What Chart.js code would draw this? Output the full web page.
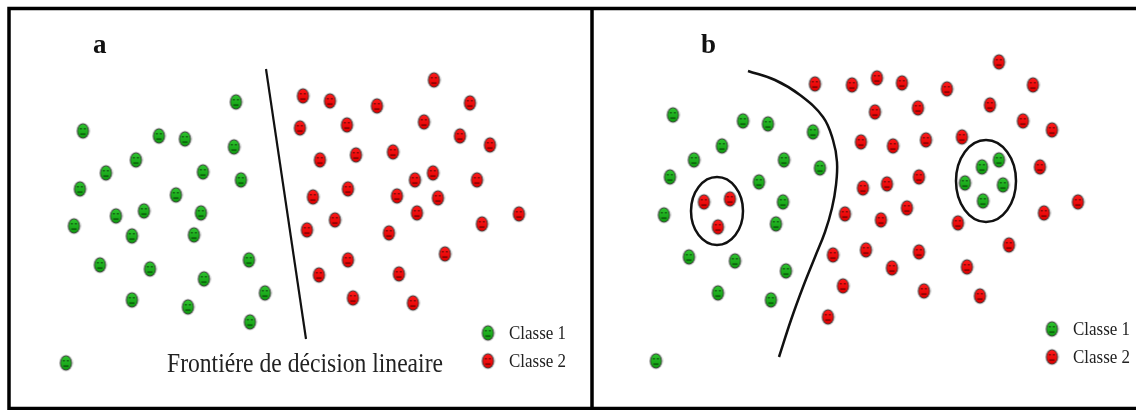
<!DOCTYPE html>
<html>
<head>
<meta charset="utf-8">
<script src="https://cdn.jsdelivr.net/npm/chart.js@4/dist/chart.umd.min.js"></script>
<style>
html, body { margin: 0; padding: 0; background: #fff; }
#wrap { width: 1136px; height: 410px; }
</style>
</head>
<body>
<div id="wrap"><canvas id="chart"></canvas></div>
<script>
// panel a
const classe1A = [[83,131],[159,136],[185,139],[236,102],[234,147],[136,160],[106,173],[80,189],[203,172],[176,195],[241,180],
  [74,226],[116,216],[144,211],[201,213],[132,236],[194,235],[100,265],[150,269],[204,279],[249,260],[265,293],[132,300],[188,307],[250,322],[66,363]];
const classe2A = [[434,80],[303,96],[330,101],[377,106],[470,103],[300,128],[347,125],[424,122],[460,136],[490,145],[320,160],[356,155],
  [393,152],[415,180],[433,173],[477,180],[313,197],[348,189],[397,196],[438,198],[417,213],[519,214],[307,230],[335,220],[389,233],
  [482,224],[445,254],[348,260],[319,275],[399,274],[353,298],[413,303]];
const frontiereA = [[266,69],[306,339]];

// panel b
const classe1B = [[673,115],[743,121],[768,124],[813,132],[722,146],[694,160],[784,160],[820,168],[670,177],[759,182],[783,202],
  [664,215],[776,224],[689,257],[735,261],[786,271],[718,293],[771,300],[656,361],
  [982,167],[999,160],[965,183],[1003,185],[983,201]];
const classe2B = [[704,202],[730,199],[718,227],
  [815,84],[852,85],[877,78],[902,83],[947,89],[999,62],[1033,85],[875,112],[918,108],[990,105],[1023,121],[1052,130],
  [861,142],[893,146],[926,140],[962,137],[1040,167],[863,188],[887,184],[919,177],[907,208],[1044,213],[1078,202],
  [845,214],[881,220],[958,223],[866,250],[919,252],[892,268],[967,267],[1009,245],[833,255],[843,286],[924,291],[980,296],[828,317]];
const frontiereB = [[748,71],[775,80],[800,95],[823,117],[833,140],[837,162],[836,185],[832,208],[825,232],[815,257],[803,287],[791,320],[779,357]];
// ellipses: [cx, cy, rx, ry]
const cerclesB = [[717,211,26,34],[986,181,30,41]];

// legend
const legendeX = [488, 1052];
const legende1Y = [333, 329];
const legende2Y = [361, 357];
const legendeTexte = ['Classe 1', 'Classe 2'];
const titres = ['a', 'b'];

const toXY = arr => arr.map(p => ({ x: p[0], y: p[1] }));

function makeFace(fill, light) {
  const cv = document.createElement('canvas');
  cv.width = 15; cv.height = 18;
  const g = cv.getContext('2d');
  g.beginPath(); g.ellipse(7.5, 9, 7, 8.6, 0, 0, Math.PI * 2);
  g.fillStyle = 'rgba(160,160,160,0.45)'; g.fill();
  g.beginPath(); g.ellipse(7.5, 9, 6, 7.6, 0, 0, Math.PI * 2);
  g.fillStyle = '#3a3a3a'; g.fill();
  const grd = g.createLinearGradient(0, 2, 0, 16);
  grd.addColorStop(0, light); grd.addColorStop(1, fill);
  g.beginPath(); g.ellipse(7.5, 9, 5.1, 6.7, 0, 0, Math.PI * 2);
  g.fillStyle = grd; g.fill();
  g.fillStyle = 'rgba(0,0,0,0.75)';
  g.fillRect(4.6, 6.2, 1.6, 1.2); g.fillRect(8.6, 6.2, 1.6, 1.2);
  g.fillRect(4.8, 11.6, 5.2, 0.9);
  return cv;
}
const faceVerte = makeFace('#0f9a0f', '#2ec42e');
const faceRouge = makeFace('#dd0000', '#ff1a1a');

const points = (data, img) => ({
  data: toXY(data), pointStyle: img, pointRadius: 7, showLine: false
});
const ligne = (data, tension, w) => ({
  data: toXY(data), showLine: true, pointRadius: 0, borderColor: '#111', borderWidth: w, tension: tension
});

const decor = {
  id: 'decor',
  beforeDraw(chart) {
    const ctx = chart.ctx;
    ctx.save();
    ctx.fillStyle = '#fff';
    ctx.fillRect(0, 0, chart.width, chart.height);
    ctx.restore();
  },
  beforeDatasetsDraw(chart) {
    const ctx = chart.ctx, xs = chart.scales.x, ys = chart.scales.y;
    ctx.save();
    ctx.strokeStyle = '#111';
    ctx.lineWidth = 2.5;
    cerclesB.forEach(c => {
      const cx = xs.getPixelForValue(c[0]), cy = ys.getPixelForValue(c[1]);
      const rx = xs.getPixelForValue(c[0] + c[2]) - cx, ry = ys.getPixelForValue(c[1] + c[3]) - cy;
      ctx.beginPath();
      ctx.ellipse(cx, cy, rx, Math.abs(ry), 0, 0, Math.PI * 2);
      ctx.stroke();
    });
    ctx.restore();
  },
  afterDraw(chart) {
    const ctx = chart.ctx, xs = chart.scales.x, ys = chart.scales.y;
    ctx.save();
    // frame
    ctx.strokeStyle = '#000';
    ctx.lineWidth = 3.5;
    ctx.beginPath();
    ctx.moveTo(1136, 8.5); ctx.lineTo(9, 8.5); ctx.lineTo(9, 408.5); ctx.lineTo(1136, 408.5);
    ctx.moveTo(592, 8); ctx.lineTo(592, 409);
    ctx.stroke();

    const txt = (s, x, y, font, w) => {
      ctx.font = font;
      const m = ctx.measureText(s).width;
      ctx.save();
      ctx.translate(x, y);
      if (w) ctx.scale(w / m, 1);
      ctx.fillText(s, 0, 0);
      ctx.restore();
    };
    ctx.fillStyle = '#111';
    ctx.textBaseline = 'alphabetic';
    // panel letters
    txt(titres[0], xs.getPixelForValue(93), ys.getPixelForValue(53), 'bold 27px "Liberation Serif"');
    txt(titres[1], xs.getPixelForValue(701), ys.getPixelForValue(53), 'bold 27px "Liberation Serif"');
    // boundary label
    ctx.fillStyle = '#222';
    txt('Frontiére de décision lineaire', xs.getPixelForValue(167), ys.getPixelForValue(372), '27px "Liberation Serif"', 276);
    // legend labels
    legendeX.forEach((lx, i) => {
      const tx = xs.getPixelForValue(lx + 21);
      txt(legendeTexte[0], tx, ys.getPixelForValue(legende1Y[i] + 6), '19px "Liberation Serif"', 57);
      txt(legendeTexte[1], tx, ys.getPixelForValue(legende2Y[i] + 6), '19px "Liberation Serif"', 57);
    });
    ctx.restore();
  }
};

new Chart(document.getElementById('chart'), {
  type: 'scatter',
  data: {
    datasets: [
      ligne(frontiereA, 0, 2.2),
      ligne(frontiereB, 0.4, 2.5),
      points(classe1A, faceVerte),
      points(classe2A, faceRouge),
      points(classe1B, faceVerte),
      points(classe2B, faceRouge),
      points(legendeX.map((x, i) => [x, legende1Y[i]]), faceVerte),
      points(legendeX.map((x, i) => [x, legende2Y[i]]), faceRouge)
    ]
  },
  options: {
    responsive: true,
    maintainAspectRatio: false,
    animation: false,
    layout: { padding: 0, autoPadding: false },
    scales: {
      x: { type: 'linear', min: 0, max: 1136, display: false },
      y: { type: 'linear', min: 0, max: 410, reverse: true, display: false }
    },
    plugins: { legend: { display: false }, tooltip: { enabled: false } }
  },
  plugins: [decor]
});
</script>
</body>
</html>
